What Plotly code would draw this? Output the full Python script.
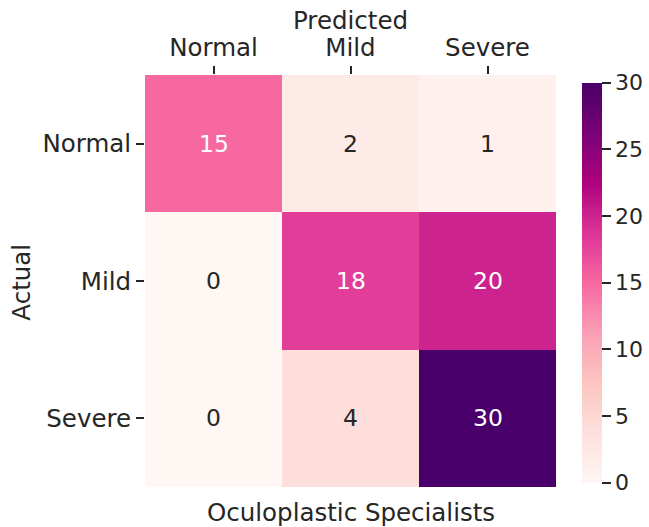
import plotly.graph_objects as go

# Confusion matrix: rows = actual class, columns = predicted class
classes = ["Normal", "Mild", "Severe"]
counts = [
    [15, 2, 1],
    [0, 18, 20],
    [0, 4, 30],
]
cbar_ticks = [0, 5, 10, 15, 20, 25, 30]

# ColorBrewer RdPu (9-class), light to dark
rdpu = [
    "rgb(255,247,243)", "rgb(253,224,221)", "rgb(252,197,192)",
    "rgb(250,159,181)", "rgb(247,104,161)", "rgb(221,52,151)",
    "rgb(174,1,126)", "rgb(122,1,119)", "rgb(73,0,106)",
]
colorscale = [[i / (len(rdpu) - 1), c] for i, c in enumerate(rdpu)]

FONT = "DejaVu Sans"
INK = "#262626"
vmin, vmax = 0, 30

fig = go.Figure(
    go.Heatmap(
        z=counts,
        x=classes,
        y=classes,
        zmin=vmin,
        zmax=vmax,
        colorscale=colorscale,
        xgap=0,
        ygap=0,
        hoverinfo="skip",
        colorbar=dict(
            x=1.063,
            xanchor="left",
            xpad=0,
            y=0.496,
            yanchor="middle",
            ypad=0,
            len=400,
            lenmode="pixels",
            thickness=20,
            outlinewidth=0,
            ticks="outside",
            ticklen=9,
            tickwidth=1.5,
            tickcolor=INK,
            tickvals=cbar_ticks,
            tickfont=dict(family=FONT, size=22, color=INK),
        ),
    )
)

# Cell value labels: light text on dark cells, dark text on light cells
for i, row in enumerate(counts):
    for j, v in enumerate(row):
        frac = (v - vmin) / (vmax - vmin)
        fig.add_annotation(
            x=classes[j],
            y=classes[i],
            text=str(v),
            showarrow=False,
            font=dict(family=FONT, size=23.5, color="white" if frac > 0.45 else INK),
        )

fig.add_annotation(
    text="Predicted", xref="paper", yref="paper", x=0.5, y=1.0, yshift=55,
    yanchor="middle", showarrow=False,
    font=dict(family=FONT, size=24.5, color=INK),
)
fig.add_annotation(
    text="Oculoplastic Specialists", xref="paper", yref="paper", x=0.5, y=0.0,
    yshift=-25, yanchor="middle", showarrow=False,
    font=dict(family=FONT, size=24.5, color=INK),
)
fig.add_annotation(
    text="Actual", xref="paper", yref="paper", x=0.0, y=0.496, xshift=-123,
    xanchor="center", yanchor="middle", textangle=-90, showarrow=False,
    font=dict(family=FONT, size=24.5, color=INK),
)

fig.update_xaxes(
    side="top",
    ticks="outside",
    ticklen=8,
    tickwidth=1.5,
    tickcolor=INK,
    showgrid=False,
    zeroline=False,
    showline=False,
    tickfont=dict(family=FONT, size=24.5, color=INK),
)
fig.update_yaxes(
    autorange="reversed",
    ticks="outside",
    ticklen=8,
    tickwidth=1.5,
    tickcolor=INK,
    showgrid=False,
    zeroline=False,
    showline=False,
    tickfont=dict(family=FONT, size=24.5, color=INK),
)

fig.update_layout(
    width=649,
    height=527,
    margin=dict(l=145, r=93, t=75, b=40, autoexpand=False),
    paper_bgcolor="white",
    plot_bgcolor="white",
    font=dict(family=FONT, color=INK),
)

fig.write_html("out.html")
